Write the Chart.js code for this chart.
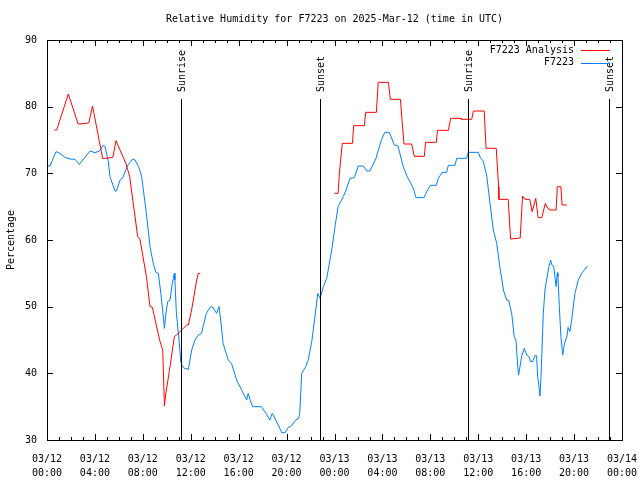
<!DOCTYPE html>
<html>
<head>
<meta charset="utf-8">
<script src="https://cdn.jsdelivr.net/npm/chart.js@4/dist/chart.umd.min.js"></script>
<style>
  body { margin: 0; background: #fff; }
  canvas { display: block; }
</style>
</head>
<body>
<canvas id="rh-chart" width="640" height="480"></canvas>
<script>
// hours since 03/12 00:00 UTC
const anaHours = [0.61, 0.81, 1.78, 2.6, 3.3, 3.5, 3.8, 4.65, 5.5, 5.76, 6.6, 6.9, 7.57, 7.76, 8.3, 8.6, 8.8, 9.4,
  9.66, 9.7, 9.8, 9.9, 10.27, 10.63, 10.8, 11.1, 11.66, 11.8, 12.07, 12.5, 12.63, 12.8,
  18,
  24.0, 24.3, 24.4, 24.5, 24.65, 25.5, 25.6, 26.5, 26.6, 27.5, 27.65, 28.5, 28.66, 29.5, 29.8, 30.44,
  30.66, 31.5, 31.6, 32.5, 32.6, 33.5, 33.7, 34.56, 34.6, 35.45, 35.6, 36.5, 36.65, 37.5, 37.7, 37.72,
  38.5, 38.7, 39.5, 39.7, 39.9, 40.3, 40.5, 40.8, 41.0, 41.3, 41.6, 41.8, 42.0, 42.5, 42.6, 42.9, 43.0, 43.4];
const anaRH = [76.5, 76.5, 81.9, 77.4, 77.5, 77.6, 80.1, 72.2, 72.4, 74.9, 71.4, 69.5, 60.5, 60.1, 54.5, 50, 49.9, 45,
  43.5, 41.25, 35.1, 36.75, 41, 45.5, 45.75, 46.25, 47.25, 47.25, 49.5, 54, 55, 55,
  null,
  67, 67, 69.75, 71.75, 74.5, 74.5, 77.15, 77.15, 79.15, 79.15, 83.65, 83.65, 81.1, 81.1, 74.4, 74.4,
  72.55, 72.55, 74.65, 74.65, 76.45, 76.45, 78.25, 78.25, 78.1, 78.1, 79.35, 79.35, 73.75, 73.75, 68, 66.1,
  66.1, 60.15, 60.3, 66.6, 66.1, 66.1, 64.25, 66.25, 63.35, 63.35, 65.5, 64.75, 64.5, 64.5, 68, 68, 65.25, 65.25];

const obsHours = [0.03, 0.25, 0.75, 1.08, 1.5, 1.92, 2.34, 2.7, 3.6, 4.0, 4.37, 4.7, 4.85, 5.12, 5.26, 5.68, 5.8,
  6.1, 6.3, 6.7, 7.15, 7.35, 7.7, 7.9, 8.26, 8.6, 8.87, 9.1, 9.3, 9.5, 9.65, 9.8, 9.93, 10.07, 10.27, 10.46,
  10.63, 10.68, 10.8, 11.05, 11.16, 11.25, 11.46, 11.8, 12.08, 12.35, 12.63, 12.9, 13.3, 13.66, 13.85, 14.15,
  14.36, 14.5, 14.7, 15.13, 15.4, 15.83, 16.25, 16.67, 16.8, 16.95, 17.17, 17.9, 18.28, 18.6, 18.8, 19.1, 19.6,
  19.87, 20.15, 20.4, 20.7, 21.0, 21.1, 21.26, 21.6, 21.8, 22.1, 22.37, 22.6, 22.8, 23.07, 23.35, 23.77, 24.04,
  24.3, 24.73, 24.93, 25.3, 25.65, 25.98, 26.4, 26.7, 26.96, 27.46, 27.93, 28.2, 28.57, 29.0, 29.3, 29.74,
  30.07, 30.58, 30.8, 31.47, 31.7, 32.0, 32.5, 32.66, 33.0, 33.36, 33.5, 34.06, 34.2, 35.03, 35.17, 36.0,
  36.2, 36.4, 36.7, 36.98, 37.26, 37.54, 37.8, 38.1, 38.37, 38.55, 38.8, 39.0, 39.15, 39.3, 39.37, 39.62,
  39.84, 40.04, 40.23, 40.37, 40.54, 40.73, 40.87, 40.96, 41.07, 41.15, 41.24, 41.35, 41.43, 41.57, 41.7,
  41.9, 42.04, 42.15, 42.3, 42.5, 42.6, 42.65, 42.77, 42.9, 43.05, 43.2, 43.4, 43.5, 43.65, 43.8, 44.07,
  44.35, 44.63, 44.9, 45.1];
const obsRH = [71.1, 71.1, 73.25, 73, 72.4, 72.15, 72.1, 71.35, 73.35, 73.1, 73.35, 74.2, 74.0, 71.75, 69.5, 67.35, 67.35,
  69, 69.25, 71.1, 72.15, 72, 70.75, 69.5, 64.5, 59, 56.5, 55.1, 55, 52, 49.5, 46.75, 49, 50.75, 51, 53.5,
  55, 54, 49, 44.5, 41.75, 41.25, 40.75, 40.6, 43.5, 45, 45.75, 46, 49, 50, 49.9, 49,
  50, 48, 44.5, 42, 41.5, 39, 37.5, 36, 37, 36, 35, 35, 34, 33, 34, 33, 31.1,
  31.1, 31.9, 32.1, 32.9, 33.25, 34, 40, 41, 42, 44.75, 48.5, 52, 51.25, 53, 54.25, 58.5, 62,
  65, 66.5, 67.35, 69.25, 69.35, 71.1, 71.1, 70.35, 70.35, 72.25, 75.1, 76.15, 76.15, 74.25, 74.1, 71,
  69.5, 67.75, 66.35, 66.35, 67.25, 68.2, 68.2, 69.25, 70.15, 70.15, 71.2, 71.2, 72.25, 72.25, 73.15, 73.15,
  72.25, 71.9, 69.75, 65.5, 61.5, 59.5, 56, 52.5, 51, 50.9, 48.9, 45.5, 44.9, 41, 39.75, 42.5,
  43.75, 42.75, 42.5, 41.75, 41.75, 42.65, 42.65, 39.5, 38, 36.6, 39.5, 45, 49, 52.5, 54,
  56, 57, 56.25, 56, 53, 55.1, 54.5, 50, 45.5, 42.75, 44.5, 45.5, 46.9, 46.25, 48, 52,
  54, 55, 55.6, 56.1];

const eventHours = [11.19, 22.79, 35.14, 46.9];
const eventLabels = ['Sunrise', 'Sunset', 'Sunrise', 'Sunset'];

const tickHours = [0, 4, 8, 12, 16, 20, 24, 28, 32, 36, 40, 44, 48];
const tickDates = ['03/12', '03/12', '03/12', '03/12', '03/12', '03/12', '03/13', '03/13', '03/13', '03/13', '03/13', '03/13', '03/14'];
const tickTimes = ['00:00', '04:00', '08:00', '12:00', '16:00', '20:00', '00:00', '04:00', '08:00', '12:00', '16:00', '20:00', '00:00'];

Chart.defaults.font.family = "'DejaVu Sans Mono', monospace";
Chart.defaults.font.size = 10;
Chart.defaults.color = '#000';

function toPoints(xs, ys) {
  return xs.map((x, i) => ({ x: x, y: ys[i] }));
}

// gnuplot style frame, inward ticks, sun lines and legend
const gnuplotDecor = {
  id: 'gnuplotDecor',
  afterDraw(chart) {
    const ctx = chart.ctx;
    const area = chart.chartArea;
    const xs = chart.scales.x;
    const ys = chart.scales.y;
    ctx.save();
    ctx.strokeStyle = '#000';
    ctx.lineWidth = 1;

    ctx.strokeRect(Math.round(area.left) + 0.5, Math.round(area.top) + 0.5,
      Math.round(area.right - area.left), Math.round(area.bottom - area.top));

    ctx.beginPath();
    xs.ticks.forEach((t) => {
      const px = Math.round(xs.getPixelForValue(t.value)) + 0.5;
      const len = t.value % 4 === 0 ? 6 : 3;
      ctx.moveTo(px, area.bottom);
      ctx.lineTo(px, area.bottom - len);
      ctx.moveTo(px, area.top);
      ctx.lineTo(px, area.top + len);
    });
    ys.ticks.forEach((t) => {
      const py = Math.round(ys.getPixelForValue(t.value)) + 0.5;
      ctx.moveTo(area.left, py);
      ctx.lineTo(area.left + 6, py);
      ctx.moveTo(area.right, py);
      ctx.lineTo(area.right - 6, py);
    });
    ctx.stroke();

    // sunrise / sunset markers
    ctx.font = "10px 'DejaVu Sans Mono'";
    ctx.fillStyle = '#000';
    eventHours.forEach((h, i) => {
      const px = Math.round(xs.getPixelForValue(h)) + 0.5;
      ctx.beginPath();
      ctx.moveTo(px, 99);
      ctx.lineTo(px, area.bottom);
      ctx.stroke();
      ctx.save();
      ctx.translate(px + 1, 92);
      ctx.rotate(-Math.PI / 2);
      ctx.textAlign = 'left';
      ctx.textBaseline = 'middle';
      ctx.fillText(eventLabels[i], 0, 0);
      ctx.restore();
    });

    // legend
    chart.data.datasets.forEach((ds, i) => {
      const y = 50 + i * 12.5;
      ctx.textAlign = 'right';
      ctx.textBaseline = 'middle';
      ctx.fillText(ds.label, 574, y);
      ctx.strokeStyle = ds.borderColor;
      ctx.beginPath();
      ctx.moveTo(581, Math.round(y) + 0.5);
      ctx.lineTo(610, Math.round(y) + 0.5);
      ctx.stroke();
    });
    ctx.restore();
  }
};

const ctx = document.getElementById('rh-chart').getContext('2d');
const chart = new Chart(ctx, {
  type: 'line',
  data: {
    datasets: [
      {
        label: 'F7223 Analysis',
        data: toPoints(anaHours, anaRH),
        borderColor: '#ff0000',
        borderWidth: 1,
        pointRadius: 0,
        tension: 0,
        spanGaps: false,
        fill: false
      },
      {
        label: 'F7223',
        data: toPoints(obsHours, obsRH),
        borderColor: '#0080ff',
        borderWidth: 1,
        pointRadius: 0,
        tension: 0,
        fill: false
      }
    ]
  },
  options: {
    responsive: false,
    animation: false,
    layout: { padding: { left: 0, right: 18, top: 0, bottom: 0 } },
    plugins: {
      legend: { display: false },
      tooltip: { enabled: false },
      title: {
        display: true,
        text: 'Relative Humidity for F7223 on 2025-Mar-12 (time in UTC)',
        fullSize: false,
        font: { size: 10, weight: 'normal' },
        padding: { top: 13, bottom: 15 }
      }
    },
    scales: {
      x: {
        type: 'linear',
        min: 0,
        max: 48,
        grid: { display: false, drawTicks: false },
        border: { display: false },
        ticks: {
          stepSize: 1,
          autoSkip: false,
          maxRotation: 0,
          padding: 12,
          font: { size: 10, lineHeight: 1.4 },
          callback: function (v) {
            const i = tickHours.indexOf(v);
            return i >= 0 ? [tickDates[i], tickTimes[i]] : '';
          }
        },
        afterFit: function (scale) {
          scale.height = 40;
          scale.paddingLeft = 0;
          scale.paddingRight = 0;
        }
      },
      y: {
        min: 30,
        max: 90,
        grid: { display: false, drawTicks: false },
        border: { display: false },
        ticks: { stepSize: 10, padding: 10 },
        title: {
          display: true,
          text: 'Percentage',
          font: { size: 10 },
          padding: { top: 5, bottom: 0 }
        },
        afterFit: function (scale) {
          scale.width = 47;
          scale.paddingTop = 0;
          scale.paddingBottom = 0;
        }
      }
    }
  },
  plugins: [gnuplotDecor]
});
</script>
</body>
</html>
